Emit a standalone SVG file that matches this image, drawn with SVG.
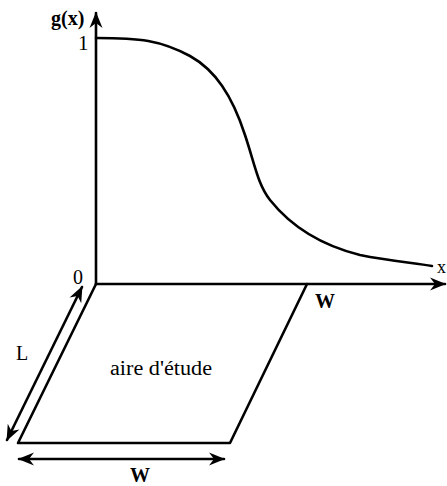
<svg xmlns="http://www.w3.org/2000/svg" width="447" height="486" viewBox="0 0 447 486">
<style>
.ln{fill:none;stroke:#000;stroke-width:2.6;stroke-linecap:round;stroke-linejoin:round}
.t{font-family:"Liberation Serif","Times New Roman",serif;fill:#000}
.b{font-weight:bold}
</style>
<defs>
<marker id="ah" markerUnits="userSpaceOnUse" markerWidth="20" markerHeight="16" viewBox="-16 -8 18 16" refX="0" refY="0" orient="auto-start-reverse">
<path d="M1,0 L-15,-6.5 L-10,0 L-15,6.5 Z" fill="#000"/>
</marker>
</defs>
<rect width="447" height="486" fill="#fff"/>
<g id="connectors">
<line id="y-axis" class="ln" x1="96" y1="284" x2="96" y2="13" marker-end="url(#ah)"/>
<line id="x-axis" class="ln" x1="96" y1="284" x2="445" y2="284" marker-end="url(#ah)"/>
<path id="curve" class="ln" d="M96,38 C140,38 160,40 190,56 C215,70 232,95 245,135 C255,165 258,185 270,200 C290,225 320,245 360,255 C390,261 415,263 432,266"/>
<line id="L-dim" class="ln" x1="7" y1="440" x2="82" y2="287" marker-start="url(#ah)" marker-end="url(#ah)"/>
<line id="W-dim" class="ln" x1="19" y1="459" x2="224" y2="459" marker-start="url(#ah)" marker-end="url(#ah)"/>
</g>
<g id="study-area">
<path class="ln" d="M96,284 L18,443 L230,443 L307,284"/>
<text class="t" x="161" y="375" font-size="20" text-anchor="middle" textLength="102" lengthAdjust="spacingAndGlyphs">aire d'étude</text>
</g>
<g id="labels">
<text class="t b" x="51" y="25" font-size="20">g(x)</text>
<text class="t" x="78" y="50" font-size="21">1</text>
<text class="t" x="73" y="284" font-size="20">0</text>
<text class="t" x="437" y="273" font-size="18">x</text>
<text class="t b" x="315" y="308" font-size="20">W</text>
<text class="t" x="16" y="360" font-size="20">L</text>
<text class="t b" x="130" y="482" font-size="20">W</text>
</g>
</svg>
